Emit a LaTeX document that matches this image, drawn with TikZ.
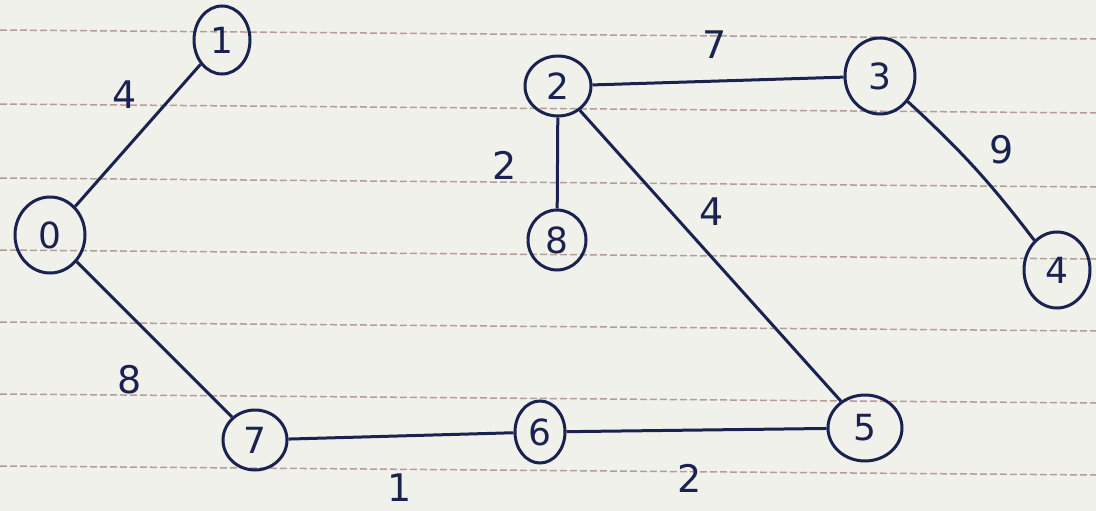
\documentclass[tikz,border=0pt]{standalone}
\usepackage{fontspec}
\setmainfont{DejaVu Sans}
\usetikzlibrary{shapes.geometric}
\definecolor{ink}{HTML}{1A2250}
\definecolor{paper}{HTML}{F1F1EC}
\definecolor{rule}{HTML}{B89A98}
\begin{document}
\begin{tikzpicture}[x=1pt,y=-1pt,
  vert/.style={draw=ink,line width=3pt,ellipse,inner sep=0pt,text=ink,font=\fontsize{36}{36}\selectfont},
  wlab/.style={text=ink,font=\fontsize{38}{38}\selectfont,inner sep=0pt},
  edge/.style={draw=ink,line width=3pt},
  ruled/.style={draw=rule,line width=1.5pt,dash pattern=on 7pt off 3pt}]
\fill[paper] (0,0) rectangle (1096,511);
\useasboundingbox (0,0) rectangle (1096,511);
\foreach \y in {30,104,178,250,322,394,466}
  \draw[ruled] (0,\y) -- (1096,\y+9);
\node[vert,minimum width=56pt,minimum height=68pt] (n1) at (222,40) {1};
\node[vert,minimum width=70pt,minimum height=76pt] (n0) at (50,235) {0};
\node[vert,minimum width=64pt,minimum height=60pt] (n7) at (255,440) {7};
\node[vert,minimum width=50pt,minimum height=62pt] (n6) at (540,432) {6};
\node[vert,minimum width=74pt,minimum height=66pt] (n5) at (865,428) {5};
\node[vert,minimum width=66pt,minimum height=60pt] (n2) at (558,86) {2};
\node[vert,minimum width=58pt,minimum height=60pt] (n8) at (557,240) {8};
\node[vert,minimum width=70pt,minimum height=76pt] (n3) at (880,76) {3};
\node[vert,minimum width=66pt,minimum height=76pt] (n4) at (1057,270) {4};
\draw[edge] (n1) -- (n0);
\draw[edge] (n0) -- (n7);
\draw[edge] (n7) -- (n6);
\draw[edge] (n6) -- (n5);
\draw[edge] (n2) -- (n5);
\draw[edge] (n2) -- (n8);
\draw[edge] (n2) -- (n3);
\draw[edge] (n3) to[bend left=5] (n4);
\node[wlab] (w01) at (125,95) {4};
\node[wlab] (w07) at (130,380) {8};
\node[wlab] (w76) at (400,488) {1};
\node[wlab] (w65) at (690,478) {2};
\node[wlab] (w25) at (712,212) {4};
\node[wlab] (w28) at (505,165) {2};
\node[wlab] (w23) at (715,45) {7};
\node[wlab] (w34) at (1002,150) {9};
\end{tikzpicture}
\end{document}
